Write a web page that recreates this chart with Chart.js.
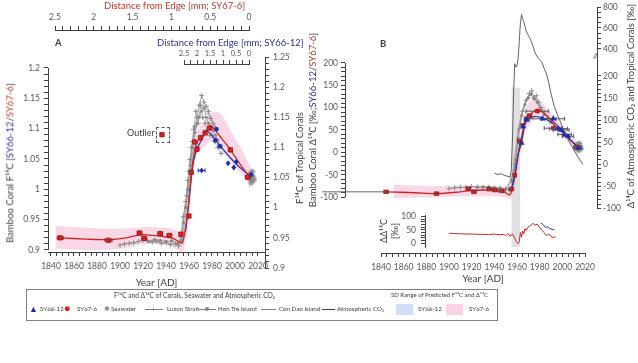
<!DOCTYPE html>
<html>
<head>
<meta charset="utf-8">
<script src="https://cdn.jsdelivr.net/npm/chart.js@4.4.1/dist/chart.umd.min.js"></script>
<style>
body { margin: 0; background: #fff; }
#fig { position: relative; width: 638px; height: 363px; overflow: hidden; background: #fff;
  font-family: Lato, 'Open Sans', sans-serif; color: #404040; }
canvas { position: absolute; }
.t { position: absolute; white-space: nowrap; font-size: 9.5px; line-height: 1; }
.rot { transform: translate(-50%, -50%) rotate(-90deg); }
.red { color: #C0392B; }
.blue { color: #2E3192; }
.lg { position: absolute; white-space: nowrap; font-size: 6.2px; line-height: 1; color: #404040; }
.ln { position: absolute; height: 0; border-top: 1px solid #7f7f7f; }
</style>
</head>
<body>
<div id="fig">
  <canvas id="cAt1" width="300" height="31" style="left:0;top:0"></canvas>
  <canvas id="cAt2" width="120" height="31" style="left:150px;top:34px"></canvas>
  <canvas id="cA" width="300" height="290" style="left:0;top:0"></canvas>
  <canvas id="cAx" width="300" height="40" style="left:0;top:251px"></canvas>
  <canvas id="cB" width="338" height="290" style="left:300px;top:0"></canvas>
  <canvas id="cBi" width="338" height="38" style="left:300px;top:212px"></canvas>
  <canvas id="cBx" width="338" height="36" style="left:300px;top:252px"></canvas>

  <!-- panel letters and axis titles -->
  <div class="t" style="left:55px;top:38px;font-weight:bold">A</div>
  <div class="t" style="left:380px;top:39px;font-weight:bold">B</div>
  <div class="t red" style="left:104px;top:1px">Distance from Edge [mm; SY67-6]</div>
  <div class="t blue" style="left:157px;top:38px">Distance from Edge [mm; SY66-12]</div>
  <div class="t rot" style="left:10px;top:163px">Bamboo Coral F¹⁴C [<span class="blue">SY66-12</span>/<span class="red">SY67-6</span>]</div>
  <div class="t rot" style="left:300px;top:158px">F¹⁴C of Tropical Corals</div>
  <div class="t rot" style="left:313px;top:120px">Bamboo Coral Δ¹⁴C [‰;<span class="blue">SY66-12</span>/<span class="red">SY67-6</span>]</div>
  <div class="t rot" style="left:631px;top:106px">Δ¹⁴C of Atmospheric CO₂ and Tropical Corals [‰]</div>
  <div class="t rot" style="left:383px;top:231px;font-size:9px">ΔΔ¹⁴C</div>
  <div class="t rot" style="left:394px;top:231px;font-size:9px">[‰]</div>
  <div class="t" style="left:593px;top:53px;font-size:7px">//</div>
  <div class="t" style="left:127px;top:128px;font-size:9px">Outlier</div>
  <div style="position:absolute;left:156px;top:127px;width:12px;height:14px;border:1px dashed #595959"></div>

  <!-- legend -->
  <div style="position:absolute;left:26px;top:289px;width:470px;height:30px;border:1px solid #7f7f7f"></div>
  <div class="lg" style="left:114px;top:292px;font-size:6.6px">F¹⁴C and Δ¹⁴C of Corals, Seawater and Atmospheric CO₂</div>
  <div class="lg" style="left:391px;top:292px;font-size:6px">SD Range of Predicted F¹⁴C and Δ¹⁴C</div>
  <div class="lg" style="left:29px;top:304px;font-size:9px;color:#1C2FB0">▲</div>
  <div class="lg" style="left:40px;top:306px">SY66-12</div>
  <div class="lg" style="left:64px;top:303px;font-size:10px;color:#E02020">●</div>
  <div class="lg" style="left:77px;top:306px">SY67-6</div>
  <div class="lg" style="left:104px;top:305px;font-size:7px;color:#8a8a8a">✱</div>
  <div class="lg" style="left:111px;top:306px">Seawater</div>
  <div class="ln" style="left:145px;top:309px;width:18px"></div>
  <div class="lg" style="left:151px;top:305px;font-size:8px;color:#7f7f7f">+</div>
  <div class="lg" style="left:167px;top:306px">Luzon Strait</div>
  <div class="ln" style="left:199px;top:309px;width:17px"></div>
  <div style="position:absolute;left:205px;top:307px;width:4px;height:4px;border-radius:2px;background:#7f7f7f"></div>
  <div class="lg" style="left:218px;top:306px">Hon Tre Island</div>
  <div class="ln" style="left:261px;top:309px;width:15px"></div>
  <div class="lg" style="left:279px;top:306px">Con Dao Island</div>
  <div class="ln" style="left:322px;top:309px;width:13px;border-color:#404040"></div>
  <div class="lg" style="left:337px;top:306px">Atmospheric CO₂</div>
  <div style="position:absolute;left:396px;top:304px;width:17px;height:11px;background:#CFDDF7"></div>
  <div class="lg" style="left:418px;top:306px">SY66-12</div>
  <div style="position:absolute;left:446px;top:304px;width:17px;height:11px;background:#F9D3E4"></div>
  <div class="lg" style="left:469px;top:306px">SY67-6</div>
</div>

<script>
// ---------- tick labels ----------
function range(a, b, s) {
  const out = [];
  for (let i = 0; a + i * s <= b + 1e-9; i++) out.push(Math.round((a + i * s) * 1e6) / 1e6);
  return out;
}
const yearLabels = [1840, 1860, 1880, 1900, 1920, 1940, 1960, 1980, 2000, 2020];
const yearMinor = range(1840, 2020, 5);
const fLabelsA = [0.9, 0.95, 1, 1.05, 1.1, 1.15, 1.2];
const fMinorA = range(0.9, 1.2, 0.01);
const fLabelsA2 = [0.9, 0.95, 1, 1.05, 1.1, 1.15, 1.2, 1.25];
const fMinorA2 = range(0.9, 1.25, 0.01);
const distLabels = [0, 0.5, 1, 1.5, 2, 2.5];
const distMinor67 = range(0, 2.5, 0.1);
const distMinor12 = range(0, 2.5, 0.25);
const dLabelsB = [-100, -50, 0, 50, 100, 150, 200];
const dMinorB = range(-100, 200, 10);
const atmLabelsB = [-100, -50, 0, 50, 100, 150, 200, 400, 600, 800];
const atmMinorB = range(-100, 200, 10).concat(range(400, 800, 50));
const ddLabels = [0, 50, 100];
const ddMinor = range(0, 100, 10);

// ---------- panel A : F14C ----------
const sy676Years = [1848, 1890, 1917, 1921, 1935, 1943, 1953, 1960, 1962, 1965, 1967, 1970, 1974, 1978, 1996, 2011];
const sy676F = [0.920, 0.916, 0.928, 0.919, 0.927, 0.924, 0.926, 0.956, 1.028, 1.078, 1.066, 1.085, 1.093, 1.101, 1.065, 1.020];
const sy676YearErr = [2.5, 3, 2, 2, 2, 2, 1.5, 0.8, 0.8, 0.8, 0.8, 1, 1, 1.5, 1.5, 2];
const outlierYear = [1936.5];
const outlierF = [1.09];

const sy6612Years = [1967, 1971, 1983, 1984, 1987, 1994, 1999, 2001, 2014];
const sy6612F = [1.067, 1.031, 1.081, 1.099, 1.071, 1.043, 1.036, 1.045, 1.024];
const sy6612YearErr = [0.8, 3, 1, 1, 1.5, 0.5, 0.5, 0.5, 1];

const modelYearsA67 = [1848, 1870, 1890, 1905, 1918, 1928, 1938, 1946, 1951, 1954, 1956, 1959, 1962, 1965, 1968, 1972, 1976, 1980, 1985, 1990, 1996, 2002, 2008, 2013];
const model67F = [0.920, 0.918, 0.917, 0.920, 0.925, 0.924, 0.922, 0.919, 0.914, 0.911, 0.925, 0.965, 1.025, 1.065, 1.080, 1.088, 1.098, 1.103, 1.092, 1.080, 1.065, 1.048, 1.032, 1.020];
const modelYearsA12 = [1957, 1960, 1963, 1966, 1970, 1975, 1978, 1984, 1990, 1996, 2002, 2008, 2014];
const model12F = [0.93, 0.98, 1.035, 1.062, 1.078, 1.095, 1.093, 1.079, 1.065, 1.052, 1.040, 1.030, 1.020];

const bandYearsA = [1844, 1860, 1880, 1900, 1915, 1925, 1935, 1945, 1951, 1954, 1956, 1959, 1962, 1965, 1968, 1972, 1976, 1980, 1985, 1990, 1995, 2000, 2005, 2010, 2015];
const bandUpperA = [0.940, 0.938, 0.936, 0.935, 0.937, 0.938, 0.937, 0.935, 0.931, 0.928, 0.945, 0.985, 1.045, 1.085, 1.100, 1.108, 1.118, 1.126, 1.128, 1.118, 1.102, 1.085, 1.068, 1.050, 1.032];
const bandLowerA = [0.902, 0.901, 0.900, 0.902, 0.908, 0.910, 0.909, 0.905, 0.899, 0.896, 0.905, 0.935, 0.998, 1.045, 1.060, 1.068, 1.076, 1.080, 1.072, 1.060, 1.048, 1.037, 1.026, 1.015, 1.005];

// tropical corals (right axis of A)
const luzonYears = [1900, 1904, 1908, 1912, 1916, 1920, 1924, 1928, 1932, 1936, 1940, 1944, 1948, 1951, 1953, 1955, 1957, 1959, 1961, 1963, 1965, 1967, 1969, 1971, 1973, 1975, 1977, 1979, 1981, 1983];
const luzonF = [0.938, 0.940, 0.941, 0.942, 0.944, 0.946, 0.945, 0.943, 0.944, 0.941, 0.942, 0.939, 0.940, 0.937, 0.952, 0.985, 1.010, 1.045, 1.080, 1.110, 1.135, 1.150, 1.170, 1.186, 1.175, 1.168, 1.160, 1.148, 1.140, 1.132];
const luzon2Years = [1958, 1960, 1962, 1964, 1966, 1968, 1970, 1972, 1974, 1976, 1978, 1980, 1982, 1985, 1988];
const luzon2F = [1.020, 1.060, 1.100, 1.130, 1.160, 1.140, 1.170, 1.150, 1.140, 1.130, 1.120, 1.120, 1.110, 1.100, 1.090];
const honTreYears = [1925, 1930, 1935, 1940, 1945, 1950, 1953, 1955, 1957, 1959, 1961, 1963, 1965, 1967, 1969, 1971, 1973, 1975, 1977, 1979, 1981, 1983, 1985];
const honTreF = [0.944, 0.947, 0.946, 0.944, 0.945, 0.941, 0.945, 0.975, 1.000, 1.030, 1.070, 1.100, 1.125, 1.140, 1.150, 1.160, 1.165, 1.150, 1.140, 1.135, 1.128, 1.120, 1.112];
const conDaoYears = [1950, 1954, 1957, 1960, 1963, 1966, 1969, 1972, 1975, 1978, 1981, 1984];
const conDaoF = [0.939, 0.946, 0.990, 1.040, 1.090, 1.130, 1.155, 1.170, 1.160, 1.150, 1.140, 1.130];
const seaYears = [2012.5, 2013, 2013.5, 2014, 2014.5, 2015, 2015.5, 2016, 2016.5, 2013.8, 2015.2];
const seaF = [1.050, 1.056, 1.046, 1.058, 1.048, 1.053, 1.044, 1.051, 1.047, 1.041, 1.060];

// ---------- panel B : Delta14C ----------
const sy676BYears = [1844.5, 1889, 1917, 1922, 1935.5, 1940.5, 1946.5, 1955, 1958, 1962, 1965, 1968, 1971, 1978, 1992, 2013];
const sy676D = [-88, -92, -81, -88, -82, -84, -86, -82, -51, 25, 60, 75, 82, 92, 54, 12];
const sy676BYearErr = [2, 2, 2, 2, 2, 2, 3, 2, 1, 1, 1, 1, 2, 10, 8, 3];
const sy6612BYears = [1964, 1965.5, 1968.5, 1982.5, 1992, 1996.5, 1999, 2002, 2005, 2014];
const sy6612D = [21, 58, 73, 75, 75, 53, 50, 40, 36, 10];
const sy6612BYearErr = [1, 1, 2, 12, 10, 8, 7, 6, 5, 3];

const extYears = [1788, 1845];
const extD = [-88, -88];
const modelYearsB67 = [1845, 1870, 1890, 1910, 1920, 1935, 1945, 1950, 1953, 1955, 1957, 1960, 1962, 1964, 1967, 1970, 1975, 1978, 1985, 1990, 1995, 2000, 2005, 2010, 2014];
const model67D = [-88, -90, -92, -88, -85, -84, -86, -90, -95, -88, -62, -20, 12, 35, 68, 80, 92, 96, 85, 73, 62, 48, 34, 21, 12];
const modelYearsB12 = [1955, 1958, 1961, 1964, 1967, 1970, 1975, 1982, 1990, 1995, 2000, 2005, 2010, 2015];
const model12D = [-82, -55, -5, 22, 62, 74, 80, 77, 68, 56, 45, 33, 20, 8];

const bandYearsB = [1851, 1870, 1890, 1910, 1930, 1945, 1951, 1954, 1957, 1960, 1963, 1966, 1969, 1973, 1977, 1981, 1986, 1991, 1996, 2001, 2006, 2011, 2015];
const bandUpperB = [-72, -74, -75, -74, -75, -77, -80, -82, -65, -15, 35, 80, 105, 117, 120, 115, 100, 85, 70, 56, 42, 28, 18];
const bandLowerB = [-102, -101, -100, -98, -98, -99, -101, -103, -90, -60, -5, 35, 55, 68, 75, 75, 68, 55, 44, 32, 20, 8, -2];

const bombYears = [1955, 1963];
const bombTop = [144, 144];

const luzonBYears = [1900, 1905, 1910, 1915, 1920, 1925, 1930, 1935, 1940, 1945, 1950, 1953, 1956, 1959, 1962, 1965, 1968, 1971, 1973, 1975, 1977, 1979, 1981, 1984];
const luzonD = [-55, -53, -52, -52, -50, -51, -53, -52, -54, -55, -56, -57, -40, 10, 80, 120, 145, 160, 166, 150, 155, 140, 128, 118];
const honTreBYears = [1925, 1930, 1935, 1940, 1945, 1950, 1955, 1958, 1961, 1964, 1967, 1970, 1972, 1975, 1978, 1981, 1984, 1987, 1990];
const honTreD = [-52, -50, -51, -52, -53, -55, -35, 0, 60, 110, 135, 150, 158, 148, 140, 125, 112, 105, 95];
const conDaoBYears = [1950, 1955, 1958, 1961, 1964, 1967, 1970, 1973, 1976, 1979, 1982, 1985];
const conDaoD = [-56, -40, 20, 80, 115, 140, 155, 160, 150, 135, 120, 110];
const seaD = [38, 44, 35, 46, 37, 41, 33, 40, 36, 31, 47];

const atmYears = [1940, 1943, 1946, 1949, 1952, 1954, 1955, 1956, 1957, 1958, 1959, 1960, 1961, 1962, 1963, 1964, 1965, 1966, 1967, 1968, 1969, 1970, 1972, 1974, 1976, 1978, 1980, 1982, 1984, 1986, 1988, 1990, 1993, 1996, 2000, 2004, 2008, 2012, 2015, 2018];
const atmD = [-20, -23, -21, -25, -27, -29, -12, 55, 160, 290, 265, 275, 330, 470, 650, 730, 690, 660, 615, 575, 550, 530, 490, 430, 370, 340, 320, 300, 255, 215, 185, 160, 130, 110, 85, 62, 42, 24, 12, 0];

// inset: delta-delta14C
const ddYears67 = [1900, 1905, 1910, 1915, 1920, 1925, 1930, 1935, 1940, 1945, 1948, 1950, 1952, 1954, 1956, 1958, 1959, 1960, 1961, 1962, 1963, 1964, 1965, 1966, 1967, 1968, 1970, 1972, 1974, 1976, 1978, 1980, 1982, 1984, 1986, 1988, 1990, 1992, 1994];
const dd67 = [37, 36, 35, 34, 34, 33, 33, 32, 34, 31, 33, 28, 36, 25, 35, 18, 8, 2, -2, 5, 40, 22, 45, 35, 55, 48, 62, 66, 75, 68, 72, 58, 48, 40, 28, 35, 25, 20, 24];
const ddYears12 = [1981, 1983, 1985, 1987, 1989, 1991, 1993];
const dd12 = [76, 70, 60, 62, 55, 52, 50];

// ---------- styling ----------
const FONT = "Lato, 'Open Sans', sans-serif";
const AXIS = '#404040';
const RED = '#E02020', RED_DARK = '#8E1B1B', RED_LINE = '#C62828';
const BLUE = '#1C2FB0', BLUE_LINE = '#2233AA';
const GREY = '#8a8a8a';
const PINK = 'rgba(246, 175, 206, 0.5)';

Chart.defaults.font.family = FONT;
Chart.defaults.font.size = 8;
Chart.defaults.color = '#595959';
Chart.defaults.animation = false;
Chart.defaults.responsive = false;
Chart.defaults.plugins.legend.display = false;
Chart.defaults.plugins.tooltip.enabled = false;

// right axis of B is broken above 200 permil
function squash(v) {
  if (v <= 200) return v;
  if (v <= 400) return 200 + (v - 200) * 0.3035;
  return 260.7 + (v - 400) * 0.236;
}
class BrokenScale extends Chart.LinearScale {
  getPixelForValue(v) {
    if (v === null || v === undefined || isNaN(v)) return NaN;
    const lo = squash(this.min), hi = squash(this.max);
    return this.getPixelForDecimal((squash(v) - lo) / (hi - lo));
  }
}
BrokenScale.id = 'broken';
BrokenScale.defaults = Chart.LinearScale.defaults;
Chart.register(BrokenScale);

function pts(xs, ys, ex, ey) {
  return xs.map((x, i) => ({ x: x, y: ys[i], ex: ex ? ex[i] : 0, ey: ey || 0 }));
}
function fmtNum(v) { return String(Math.round(v * 100) / 100); }

function axisScale(o) {
  const s = {
    type: o.type || 'linear',
    position: o.position,
    min: o.min, max: o.max,
    reverse: !!o.reverse,
    border: { display: o.border !== false, color: AXIS, width: 1 },
    grid: { drawOnChartArea: false, drawTicks: true, tickLength: 4, color: AXIS, lineWidth: 1 },
    ticks: {
      autoSkip: false, maxRotation: 0, minRotation: 0, padding: o.pad, color: '#595959',
      font: { size: o.fontSize || 8.5 },
      callback: v => o.labels.some(m => Math.abs(m - v) < 1e-6) ? fmtNum(v) : ''
    },
    afterBuildTicks: sc => { sc.ticks = o.minor.map(v => ({ value: v })); },
    afterFit: sc => {
      if (o.width !== undefined) sc.width = o.width;
      if (o.height !== undefined) sc.height = o.height;
      sc.paddingTop = 0; sc.paddingBottom = 0; sc.paddingLeft = 0; sc.paddingRight = 0;
    }
  };
  if (o.title) s.title = { display: true, text: o.title, color: '#404040', font: { size: 10 }, padding: { top: 0, bottom: o.titlePad || 2 } };
  return s;
}
function hiddenX(min, max) {
  return { type: 'linear', min: min, max: max, display: false,
    afterFit: sc => { sc.paddingTop = 0; sc.paddingBottom = 0; sc.paddingLeft = 0; sc.paddingRight = 0; } };
}

function alignPx(p) { return Math.round(p - 0.5) + 0.5; }

// axis lines limited to the labelled part of an axis
const spinePlugin = {
  id: 'spines',
  afterDraw(chart, args, opts) {
    const ctx = chart.ctx;
    (opts.list || []).forEach(sp => {
      const s = chart.scales[sp.id];
      const x = alignPx(s.position === 'left' ? s.right : s.left);
      ctx.save();
      ctx.strokeStyle = AXIS;
      ctx.lineWidth = 1;
      ctx.beginPath();
      ctx.moveTo(x, s.getPixelForValue(sp.from));
      ctx.lineTo(x, s.getPixelForValue(sp.to));
      ctx.stroke();
      ctx.restore();
    });
  }
};

// simple x / y error bars for datasets that carry an errColor
const errorBarPlugin = {
  id: 'errorBars',
  beforeDatasetDraw(chart, args) {
    const ds = chart.data.datasets[args.index];
    if (!ds.errColor) return;
    const xs = chart.scales[args.meta.xAxisID], ys = chart.scales[args.meta.yAxisID];
    const ctx = chart.ctx;
    ctx.save();
    ctx.strokeStyle = ds.errColor;
    ctx.lineWidth = 1;
    ds.data.forEach(p => {
      const px = xs.getPixelForValue(p.x), py = ys.getPixelForValue(p.y);
      ctx.beginPath();
      if (p.ex) {
        const a = xs.getPixelForValue(p.x - p.ex), b = xs.getPixelForValue(p.x + p.ex);
        ctx.moveTo(a, py); ctx.lineTo(b, py);
        ctx.moveTo(a, py - 2); ctx.lineTo(a, py + 2);
        ctx.moveTo(b, py - 2); ctx.lineTo(b, py + 2);
      }
      if (p.ey) {
        const a = ys.getPixelForValue(p.y - p.ey), b = ys.getPixelForValue(p.y + p.ey);
        ctx.moveTo(px, a); ctx.lineTo(px, b);
      }
      ctx.stroke();
    });
    ctx.restore();
  }
};

function lineDs(data, color, width, extra) {
  return Object.assign({ data: data, borderColor: color, borderWidth: width, pointRadius: 0, fill: false, tension: 0.3 }, extra || {});
}

// ---------- top distance axes of A ----------
new Chart('cAt1', {
  type: 'line', data: { datasets: [] },
  options: {
    devicePixelRatio: 1,
    layout: { padding: { left: 55, right: 51, top: 0, bottom: 0 } },
    scales: {
      x: axisScale({ position: 'top', min: 0, max: 2.5, reverse: true, minor: distMinor67, labels: distLabels, pad: 4, height: 30 }),
      y: { display: false }
    }
  }
});
new Chart('cAt2', {
  type: 'line', data: { datasets: [] },
  options: {
    devicePixelRatio: 1,
    layout: { padding: { left: 34, right: 21, top: 0, bottom: 0 } },
    scales: {
      x: axisScale({ position: 'top', min: 0, max: 2.5, reverse: true, minor: distMinor12, labels: distLabels, pad: 2, height: 30, fontSize: 7.5 }),
      y: { display: false }
    }
  }
});

// ---------- panel A ----------
new Chart('cA', {
  type: 'line',
  data: {
    datasets: [
      lineDs(pts(bandYearsA, bandUpperA), 'rgba(0,0,0,0)', 0, { order: 6 }),
      lineDs(pts(bandYearsA, bandLowerA), 'rgba(0,0,0,0)', 0, { order: 6, fill: '-1', backgroundColor: PINK }),
      lineDs(pts(luzonYears, luzonF), GREY, 0.8, { yAxisID: 'y2', order: 4, tension: 0, pointStyle: 'cross', pointRadius: 2.5, pointBorderColor: GREY, pointBorderWidth: 1 }),
      lineDs(pts(luzon2Years, luzon2F), '#a0a0a0', 0.6, { yAxisID: 'y2', order: 4, tension: 0, pointStyle: 'cross', pointRadius: 2.5, pointBorderColor: GREY, pointBorderWidth: 1 }),
      lineDs(pts(honTreYears, honTreF), GREY, 0.8, { yAxisID: 'y2', order: 4, tension: 0, pointStyle: 'circle', pointRadius: 1.6, pointBackgroundColor: GREY, pointBorderWidth: 0 }),
      lineDs(pts(conDaoYears, conDaoF), '#9a9a9a', 0.8, { yAxisID: 'y2', order: 4, tension: 0 }),
      lineDs(pts(seaYears, seaF), GREY, 0, { yAxisID: 'y2', order: 4, showLine: false, pointStyle: 'star', pointRadius: 3, pointBorderColor: GREY, pointBorderWidth: 1 }),
      lineDs(pts(modelYearsA12, model12F), BLUE_LINE, 1.2, { order: 3 }),
      lineDs(pts(modelYearsA67, model67F), RED_LINE, 1.3, { order: 2 }),
      lineDs(pts(sy6612Years, sy6612F, sy6612YearErr, 0.004), BLUE, 0, { order: 1, showLine: false, pointStyle: 'rectRot', pointRadius: 2.5, pointBackgroundColor: BLUE, pointBorderColor: BLUE, errColor: BLUE }),
      lineDs(pts(sy676Years, sy676F, sy676YearErr, 0.004), RED, 0, { order: 0, showLine: false, pointStyle: 'rect', pointRadius: 3, pointBackgroundColor: RED, pointBorderColor: RED_DARK, pointBorderWidth: 0.8, errColor: RED_DARK }),
      lineDs(pts(outlierYear, outlierF, [1.5], 0.004), RED, 0, { order: 0, showLine: false, pointStyle: 'rect', pointRadius: 3, pointBackgroundColor: RED, pointBorderColor: RED_DARK, pointBorderWidth: 0.8, errColor: RED_DARK })
    ]
  },
  options: {
    devicePixelRatio: 1,
    layout: { padding: { top: 57, bottom: 22, left: 0, right: 0 } },
    scales: {
      x: hiddenX(1837.4, 2026.1),
      y: axisScale({ position: 'left', min: 0.8703, max: 1.2181, minor: fMinorA, labels: fLabelsA, pad: 4, width: 48, border: false }),
      y2: axisScale({ position: 'right', min: 0.9, max: 1.25, minor: fMinorA2, labels: fLabelsA2, pad: 4, width: 35 })
    },
    plugins: { spines: { list: [{ id: 'y', from: 0.9, to: 1.2 }] } }
  },
  plugins: [spinePlugin, errorBarPlugin]
});

new Chart('cAx', {
  type: 'line', data: { datasets: [] },
  options: {
    devicePixelRatio: 1,
    layout: { padding: { left: 48, right: 35, top: 0, bottom: 0 } },
    scales: {
      x: axisScale({ position: 'bottom', min: 1837.4, max: 2026.1, minor: yearMinor, labels: yearLabels, pad: 5, height: 39, title: 'Year [AD]', titlePad: 2 }),
      y: { display: false }
    }
  }
});

// ---------- panel B ----------
new Chart('cB', {
  type: 'line',
  data: {
    datasets: [
      lineDs(pts(bombYears, bombTop), 'rgba(0,0,0,0)', 0, { order: 9, tension: 0, fill: { value: -211 }, backgroundColor: 'rgba(200,200,200,0.55)' }),
      lineDs(pts(bandYearsB, bandUpperB), 'rgba(0,0,0,0)', 0, { order: 6 }),
      lineDs(pts(bandYearsB, bandLowerB), 'rgba(0,0,0,0)', 0, { order: 6, fill: '-1', backgroundColor: PINK }),
      lineDs(pts(luzonBYears, luzonD), GREY, 0.8, { yAxisID: 'y2', order: 4, tension: 0, pointStyle: 'cross', pointRadius: 2.5, pointBorderColor: GREY, pointBorderWidth: 1 }),
      lineDs(pts(honTreBYears, honTreD), GREY, 0.8, { yAxisID: 'y2', order: 4, tension: 0, pointStyle: 'circle', pointRadius: 1.6, pointBackgroundColor: GREY, pointBorderWidth: 0 }),
      lineDs(pts(conDaoBYears, conDaoD), '#9a9a9a', 0.8, { yAxisID: 'y2', order: 4, tension: 0 }),
      lineDs(pts(seaYears, seaD), GREY, 0, { yAxisID: 'y2', order: 4, showLine: false, pointStyle: 'star', pointRadius: 3, pointBorderColor: GREY, pointBorderWidth: 1 }),
      lineDs(pts(atmYears, atmD), '#505050', 0.9, { yAxisID: 'y2', order: 3, tension: 0 }),
      lineDs(pts(extYears, extD), '#595959', 0.9, { order: 3, tension: 0, clip: false }),
      lineDs(pts(modelYearsB12, model12D), BLUE_LINE, 1.2, { order: 2 }),
      lineDs(pts(modelYearsB67, model67D), RED_LINE, 1.3, { order: 2 }),
      lineDs(pts(sy676BYears, sy676D, sy676BYearErr), RED, 0, { order: 1, showLine: false, pointStyle: 'rect', pointRadius: 2.5, pointBackgroundColor: RED, pointBorderColor: RED_DARK, pointBorderWidth: 0.8, errColor: '#555555' }),
      lineDs(pts(sy6612BYears, sy6612D, sy6612BYearErr), BLUE, 0, { order: 0, showLine: false, pointStyle: 'triangle', pointRadius: 3.5, pointBackgroundColor: BLUE, pointBorderColor: BLUE, errColor: '#555555' })
    ]
  },
  options: {
    devicePixelRatio: 1,
    layout: { padding: { top: 4, bottom: 40, left: 0, right: 0 } },
    scales: {
      x: hiddenX(1808.24, 2030.59),
      y: axisScale({ position: 'left', min: -217.8, max: 328.9, minor: dMinorB, labels: dLabelsB, pad: 3, width: 45, border: false }),
      y2: axisScale({ type: 'broken', position: 'right', min: -193.3, max: 820, minor: atmMinorB, labels: atmLabelsB, pad: 2, width: 41, border: false })
    },
    plugins: { spines: { list: [{ id: 'y', from: -100, to: 200 }, { id: 'y2', from: -100, to: 800 }] } }
  },
  plugins: [spinePlugin, errorBarPlugin]
});

new Chart('cBi', {
  type: 'line',
  data: {
    datasets: [
      lineDs(pts(ddYears12, dd12), BLUE_LINE, 1, { tension: 0 }),
      lineDs(pts(ddYears67, dd67), RED_LINE, 1, { tension: 0 })
    ]
  },
  options: {
    devicePixelRatio: 1,
    layout: { padding: { top: 3, bottom: 3, left: 0, right: 41 } },
    scales: {
      x: hiddenX(1878.82, 2030.59),
      y: axisScale({ position: 'left', min: -15.2, max: 106.5, minor: ddMinor, labels: ddLabels, pad: 5, width: 125 })
    }
  }
});

new Chart('cBx', {
  type: 'line', data: { datasets: [] },
  options: {
    devicePixelRatio: 1,
    layout: { padding: { left: 81, right: 53, top: 0, bottom: 0 } },
    scales: {
      x: axisScale({ position: 'bottom', min: 1840, max: 2020, minor: yearMinor, labels: yearLabels, pad: 5, height: 35, title: 'Year [AD]', titlePad: 3 }),
      y: { display: false }
    }
  }
});
</script>
</body>
</html>
